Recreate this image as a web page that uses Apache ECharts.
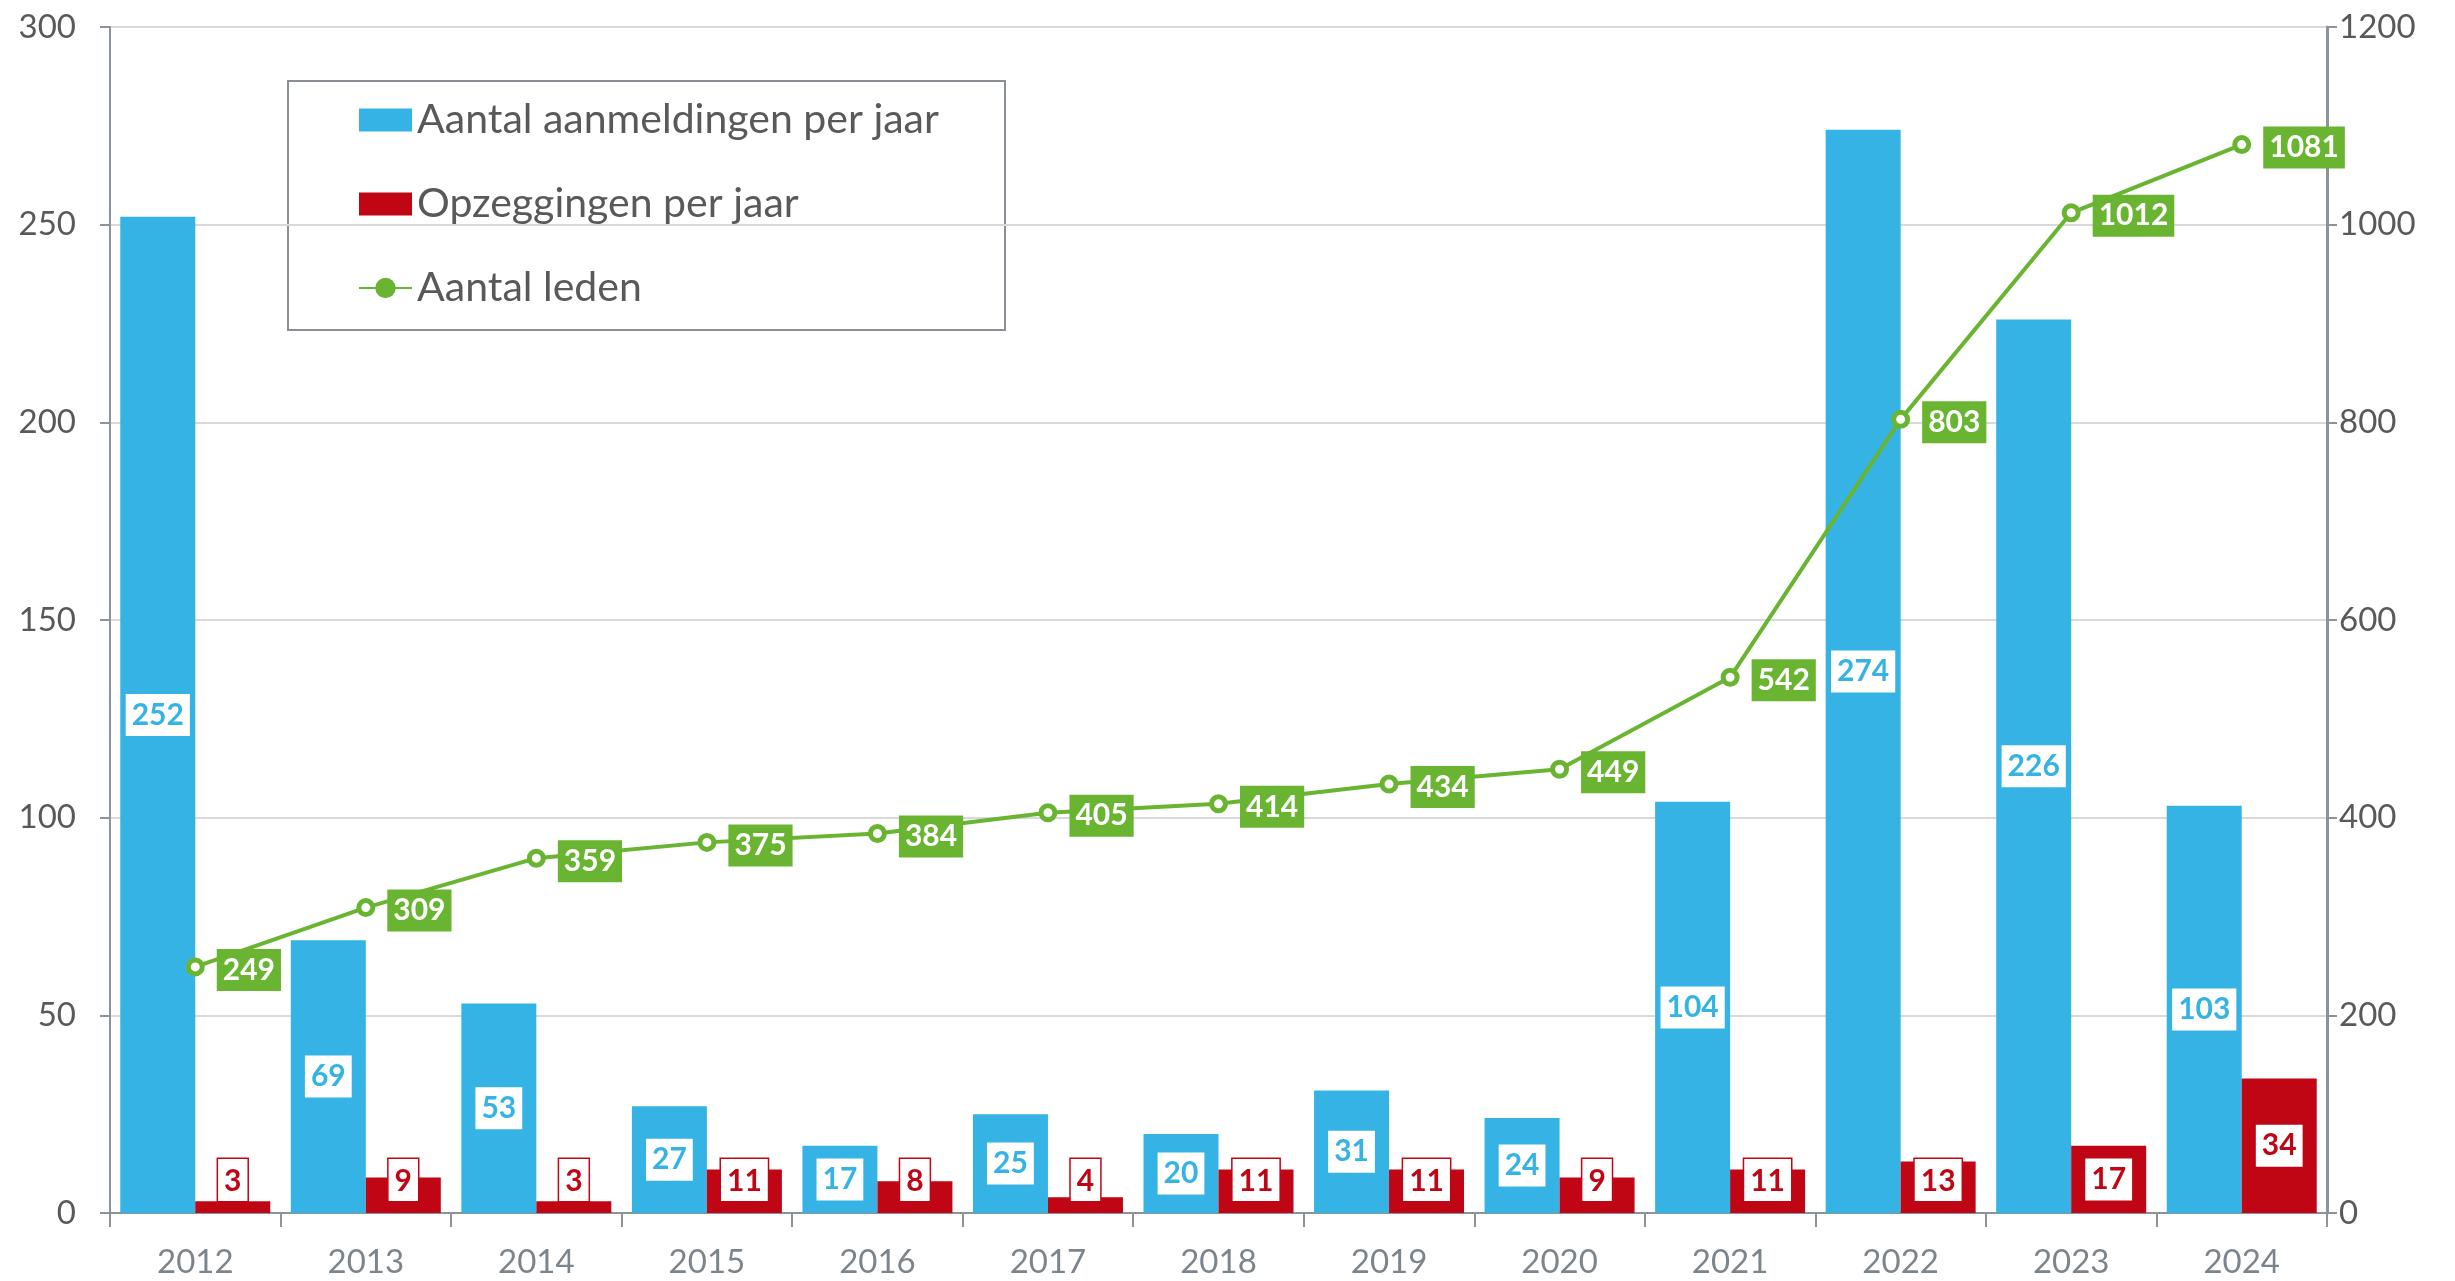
<!DOCTYPE html>
<html>
<head>
<meta charset="utf-8">
<script src="https://cdn.jsdelivr.net/npm/echarts@6/dist/echarts.min.js"></script>
<style>
html,body{margin:0;padding:0;background:#fff;}
#c{width:2455px;height:1281px;}
</style>
</head>
<body>
<div id="c"></div>
<script>
var years = ['2012','2013','2014','2015','2016','2017','2018','2019','2020','2021','2022','2023','2024'];
var aanmeldingen = [252, 69, 53, 27, 17, 25, 20, 31, 24, 104, 274, 226, 103];
var opzeggingen = [3, 9, 3, 11, 8, 4, 11, 11, 9, 11, 13, 17, 34];
var leden = [249, 309, 359, 375, 384, 405, 414, 434, 449, 542, 803, 1012, 1081];
var leftTicks = [0, 50, 100, 150, 200, 250, 300];
var rightTicks = [0, 200, 400, 600, 800, 1000, 1200];
var seriesNames = ['Aantal aanmeldingen per jaar', 'Opzeggingen per jaar', 'Aantal leden'];

var BLUE = '#36b3e5', RED = '#c00614', GREEN = '#69b532';
var FONT = 'Lato';
var labelBase = {
  show: true, fontFamily: FONT, fontSize: 30, fontWeight: 'bold',
  backgroundColor: '#fff', padding: [5, 6, 3, 6], lineHeight: 34
};

var redData = opzeggingen.map(function (v) {
  var small = v < 17;
  return {
    value: v,
    label: small ? { position: 'insideBottom', distance: 12 } : { position: 'inside' }
  };
});

var chart = echarts.init(document.getElementById('c'));
chart.setOption({
  animation: false,
  textStyle: { fontFamily: FONT },
  grid: { left: 110, right: 128, top: 27, bottom: 68 },
  legend: {
    orient: 'vertical', left: 353, top: 92,
    itemWidth: 53, itemHeight: 23, itemGap: 38, itemTextGap: 3,
    textStyle: { fontFamily: FONT, fontSize: 41, color: '#595959', lineHeight: 46 },
    data: [
      { name: seriesNames[0], icon: 'rect' },
      { name: seriesNames[1], icon: 'rect' },
      { name: seriesNames[2], itemStyle: { color: GREEN, borderColor: GREEN } }
    ]
  },
  graphic: [{
    type: 'rect', left: 287, top: 80, z: -1,
    shape: { width: 717, height: 249 },
    style: { fill: '#fff', stroke: '#8a8f95', lineWidth: 2 }
  }],
  xAxis: {
    type: 'category', data: years,
    axisLine: { lineStyle: { color: '#8c939b', width: 2 } },
    axisTick: { show: true, length: 14, lineStyle: { color: '#8c939b', width: 2 } },
    axisLabel: { fontFamily: FONT, fontSize: 33, color: '#7d858c', margin: 33 }
  },
  yAxis: [{
    type: 'value', min: 0, max: 300, interval: 50,
    axisLine: { show: true, lineStyle: { color: '#8c939b', width: 2 } },
    axisTick: { show: true, length: 10, lineStyle: { color: '#8c939b', width: 2 } },
    axisLabel: { fontFamily: FONT, fontSize: 33, color: '#595959', margin: 34,
      formatter: function (v) { return leftTicks.indexOf(v) >= 0 ? String(v) : ''; } },
    splitLine: { lineStyle: { color: '#d9d9d9', width: 2 } }
  }, {
    type: 'value', min: 0, max: 1200, interval: 200, position: 'right',
    axisLine: { show: true, lineStyle: { color: '#8c939b', width: 3 } },
    axisTick: { show: true, length: 10, lineStyle: { color: '#8c939b', width: 2 } },
    axisLabel: { fontFamily: FONT, fontSize: 33, color: '#595959', margin: 12, align: 'left',
      formatter: function (v) { return rightTicks.indexOf(v) >= 0 ? String(v) : ''; } },
    splitLine: { show: false }
  }],
  series: [{
    name: seriesNames[0], type: 'bar', data: aanmeldingen,
    barWidth: 75, barGap: '0%',
    itemStyle: { color: BLUE },
    label: Object.assign({}, labelBase, { position: 'inside', color: BLUE })
  }, {
    name: seriesNames[1], type: 'bar', data: redData,
    barWidth: 75, barGap: '0%',
    itemStyle: { color: RED },
    label: Object.assign({}, labelBase, { color: RED, borderColor: RED, borderWidth: 1.5 })
  }, {
    name: seriesNames[2], type: 'line', yAxisIndex: 1, data: leden,
    z: 5,
    symbol: 'circle', symbolSize: 14, showAllSymbol: true,
    lineStyle: { color: GREEN, width: 4 },
    itemStyle: { color: '#fff', borderColor: GREEN, borderWidth: 5 },
    label: Object.assign({}, labelBase, {
      position: 'right', distance: 12, color: '#fff', backgroundColor: GREEN,
      offset: [0, 3]
    })
  }]
});
</script>
</body>
</html>
